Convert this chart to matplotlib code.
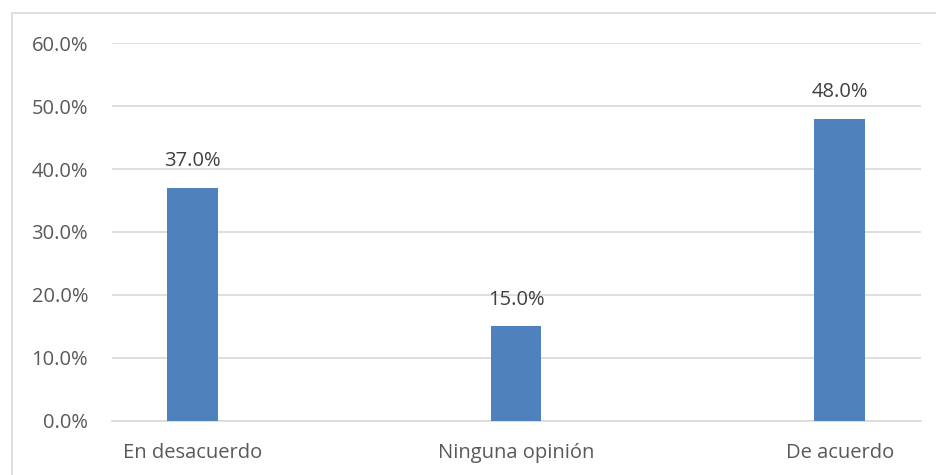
import matplotlib
matplotlib.use("Agg")
import matplotlib.pyplot as plt
from matplotlib.patches import Rectangle
from matplotlib.ticker import FuncFormatter, MultipleLocator

categories = ["En desacuerdo", "Ninguna opinión", "De acuerdo"]
values = [0.37, 0.15, 0.48]

plt.rcParams['font.family'] = ['Open Sans', 'DejaVu Sans']

W, H = 936, 475
fig = plt.figure(figsize=(W / 100, H / 100), dpi=100)
fig.patch.set_facecolor("white")

# outer chart border (cropped on right and bottom)
fig.patches.append(Rectangle((11.5 / W, -0.1), 1.2, 1 - 13 / H + 0.1,
                             transform=fig.transFigure, fill=False,
                             edgecolor="#D9D9D9", linewidth=1.2))

left, right = 111.7 / W, 920.7 / W
bottom, top = 1 - 420.7 / H, 1 - 43.3 / H
ax = fig.add_axes([left, bottom, right - left, top - bottom])

x = list(range(len(categories)))
ax.bar(x, values, width=0.157, color="#4F81BD", zorder=3)
for xi, v in zip(x, values):
    ax.annotate(f"{v*100:.1f}%", (xi, v), xytext=(0, 12), textcoords="offset points",
                ha="center", va="bottom", fontsize=14.5, color="#404040")

ax.set_xlim(-0.249, 2.25)
ax.set_ylim(0, 0.6)
ax.yaxis.set_major_locator(MultipleLocator(0.1))
ax.yaxis.set_major_formatter(FuncFormatter(lambda v, p: f"{v*100:.1f}%"))
ax.set_xticks(x)
ax.set_xticklabels(categories)
ax.grid(axis="y", color="#D9D9D9", linewidth=1.2, zorder=0)
for s in ["top", "right", "left"]:
    ax.spines[s].set_visible(False)
ax.spines["bottom"].set_color("#D9D9D9")
ax.spines["bottom"].set_linewidth(1.2)
ax.tick_params(axis="both", length=0, labelsize=14.5, colors="#595959")
ax.tick_params(axis="y", pad=17)
ax.tick_params(axis="x", pad=16)

fig.savefig("out.png", dpi=100, facecolor="white")
